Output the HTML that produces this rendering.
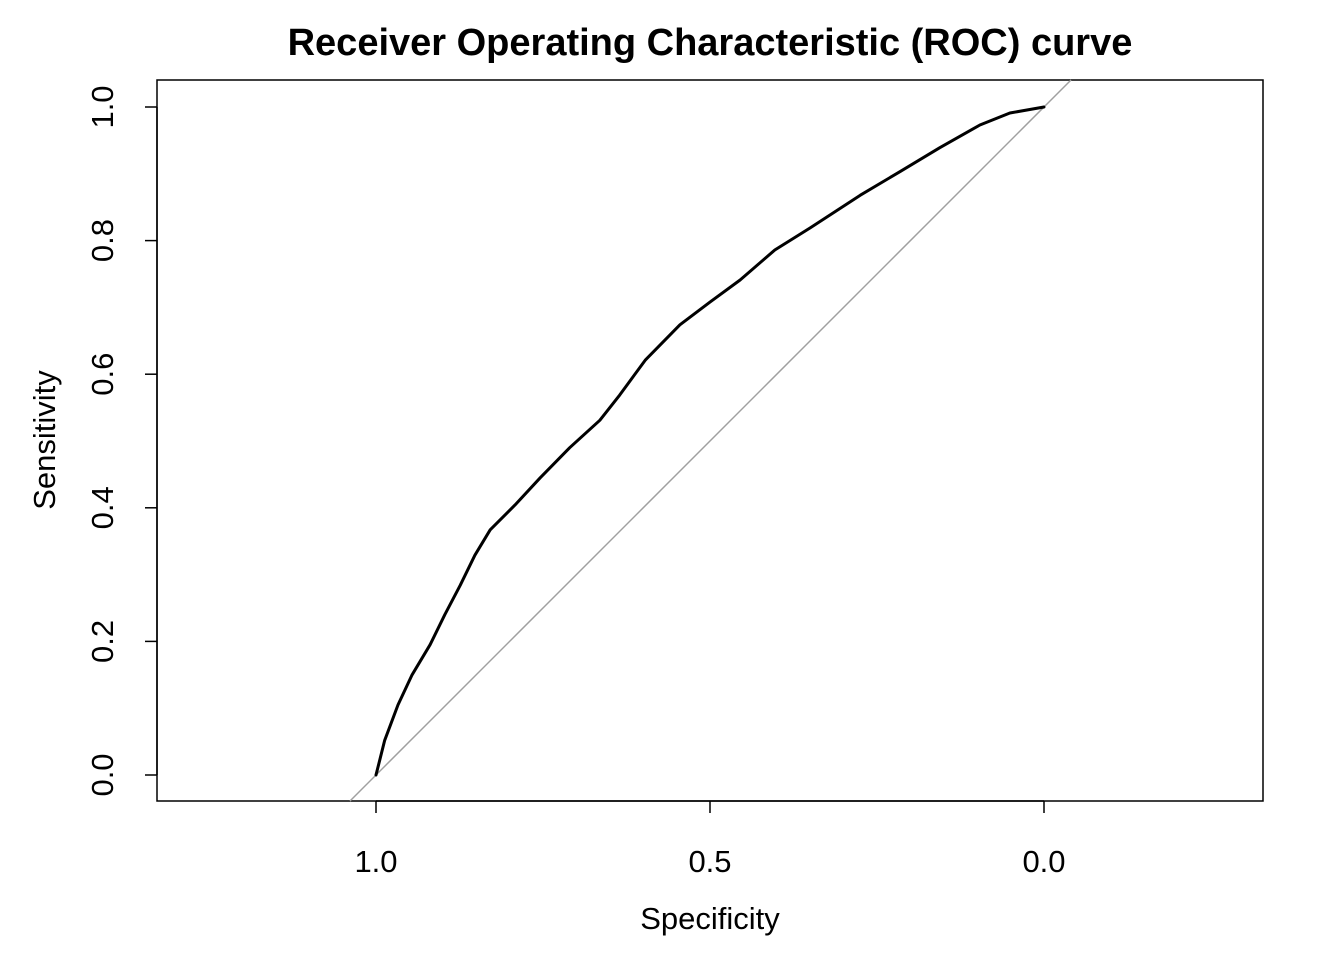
<!DOCTYPE html>
<html><head><meta charset="utf-8"><style>
html,body{margin:0;padding:0;background:#fff;width:1344px;height:960px;overflow:hidden;position:relative;}
svg{display:block;position:absolute;left:0;top:0;font-family:"Liberation Sans",Arial,sans-serif;}
</style></head><body>
<svg id="chart" width="1344" height="960">
<text x="710" y="55" text-anchor="middle" font-size="38" font-weight="bold">Receiver Operating Characteristic (ROC) curve</text>
<rect x="157" y="80" width="1106" height="721" fill="none" stroke="#000" stroke-width="1.5"/>
<text x="710" y="929" text-anchor="middle" font-size="31">Specificity</text>
<text transform="translate(55,440) rotate(-90)" text-anchor="middle" font-size="31">Sensitivity</text>
<g id="axes"></g>
<g id="marks"></g>
</svg>
<script>
const specificity = [1.0,0.987,0.967,0.946,0.919,0.897,0.874,0.852,0.829,0.792,0.754,0.710,0.665,0.635,0.597,0.545,0.500,0.455,0.403,0.350,0.275,0.216,0.156,0.096,0.051,0.0];
const sensitivity = [0.0,0.052,0.105,0.150,0.195,0.240,0.284,0.329,0.367,0.404,0.445,0.490,0.531,0.569,0.621,0.674,0.708,0.741,0.786,0.819,0.868,0.903,0.939,0.973,0.991,1.0];
const xTicks = [1.0,0.5,0.0];
const xTickLabels = ["1.0","0.5","0.0"];
const yTicks = [0,0.2,0.4,0.6,0.8,1.0];
const yTickLabels = ["0.0","0.2","0.4","0.6","0.8","1.0"];

const NS="http://www.w3.org/2000/svg";
const X0=157,X1=1263,Y0=80,Y1=801;
function xs(v){return 1044-668*v;}
function ys(v){return 775-668*v;}
function mk(tag,attrs,parent){const e=document.createElementNS(NS,tag);for(const k in attrs)e.setAttribute(k,attrs[k]);parent.appendChild(e);return e;}
const axes=document.getElementById('axes'), marks=document.getElementById('marks');

const xa=mk('line',{x1:xs(1),x2:xs(0),y1:Y1,y2:Y1,stroke:'#000','stroke-width':1.5},axes);


xTicks.forEach((t,i)=>{
  const l=mk('line',{x1:xs(t),x2:xs(t),y1:Y1,y2:Y1+12,stroke:'#000','stroke-width':1.5},axes);
  
  
  const tx=mk('text',{x:xs(t),y:872,'text-anchor':'middle','font-size':31},axes);
  tx.textContent=xTickLabels[i];
  
  
});
const ya=mk('line',{x1:X0,x2:X0,y1:ys(0),y2:ys(1),stroke:'#000','stroke-width':1.5},axes);


yTicks.forEach((t,i)=>{
  const l=mk('line',{x1:X0-12,x2:X0,y1:ys(t),y2:ys(t),stroke:'#000','stroke-width':1.5},axes);
  
  
  const tx=mk('text',{transform:`translate(113,${ys(t)}) rotate(-90)`,'text-anchor':'middle','font-size':31},axes);
  tx.textContent=yTickLabels[i];
  
  
});

// diagonal clipped exactly to plot box bounds
const sLo=(775-Y1)/668, sHi=(775-Y0)/668;
const d=mk('line',{x1:xs(1-sLo),y1:ys(sLo),x2:xs(1-sHi),y2:ys(sHi),stroke:'#a0a0a0','stroke-width':1.5},marks);



const pts=specificity.map((s,i)=>xs(s).toFixed(1)+','+ys(sensitivity[i]).toFixed(1)).join(' ');
const c=mk('polyline',{points:pts,fill:'none',stroke:'#000','stroke-width':3,'stroke-linejoin':'round','stroke-linecap':'round'},marks);


</script>
</body></html>
